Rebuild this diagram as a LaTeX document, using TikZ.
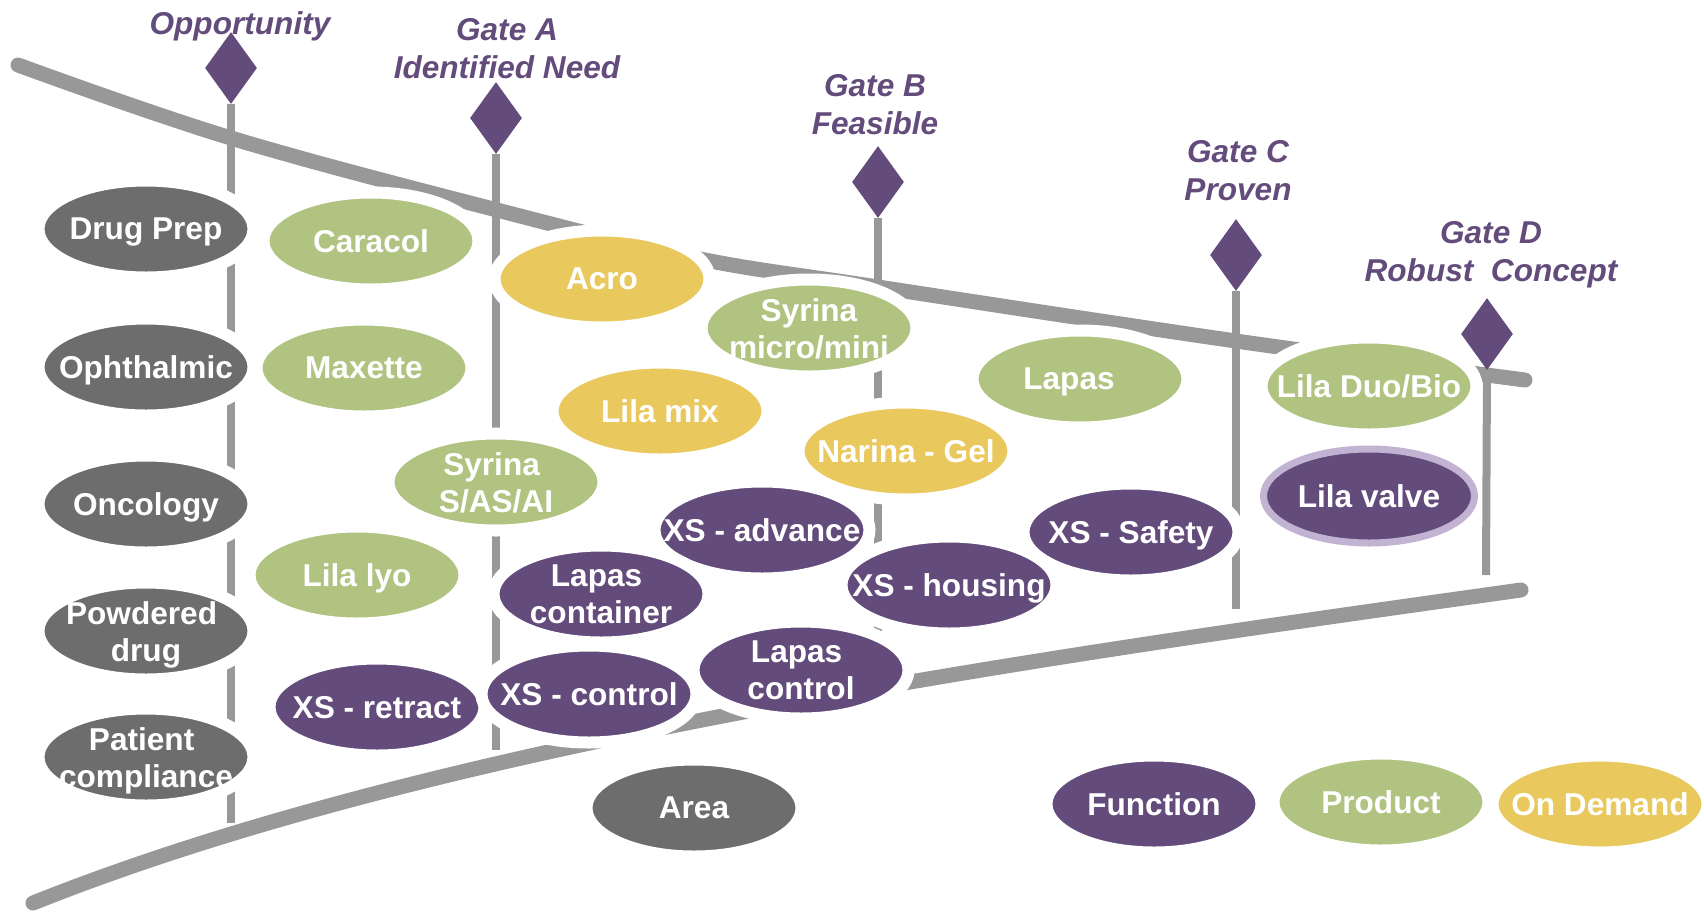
\documentclass[tikz,border=0pt]{standalone}
\usepackage{fontspec}
\setmainfont{Liberation Sans}
\usetikzlibrary{shapes.geometric}
\definecolor{fnpurple}{HTML}{634C7B}
\definecolor{prgreen}{HTML}{B1C381}
\definecolor{odyellow}{HTML}{E9C95D}
\definecolor{areagray}{HTML}{6D6D6D}
\definecolor{linegray}{HTML}{989898}
\definecolor{valverim}{HTML}{C3B3D3}
\tikzset{
  blob/.style={ellipse, draw=white, line width=6pt, minimum width=107.5pt, minimum height=48.5pt, inner sep=0pt},
  area/.style={blob, fill=areagray},
  prod/.style={blob, fill=prgreen},
  demand/.style={blob, fill=odyellow},
  func/.style={blob, fill=fnpurple},
  txt/.style={text=white, align=center, inner sep=0pt, yshift=-1.7pt, execute at end node=\vphantom{g}, font=\bfseries\fontsize{15.8}{18.5}\selectfont},
  gate/.style={diamond, fill=fnpurple, minimum width=26pt, minimum height=36pt, inner sep=0pt},
  gatetxt/.style={text=fnpurple, align=center, inner sep=0pt, font=\bfseries\itshape\fontsize{15.8}{19}\selectfont},
  rail/.style={linegray, line width=7.5pt, line cap=round},
  pole/.style={linegray, line width=4pt}
}

\begin{document}
\begin{tikzpicture}[x=0.5pt,y=-0.5pt]
\useasboundingbox (0,0) rectangle (1704,912);
\draw[rail] plot[smooth, tension=0.6] coordinates {(18,65) (231,138) (497,210) (695,258) (878,287) (1236,341) (1525,380)};
\draw[rail] (33,903) .. controls (433,743) and (1021,660) .. (1521,590);
\node[gate] (g0) at (231,68) {};
\node[gate] (gA) at (496,118) {};
\node[gate] (gB) at (878,182) {};
\node[gate] (gC) at (1236,255) {};
\node[gate] (gD) at (1487,334) {};
\coordinate (e0) at (231,823);
\coordinate (eA) at (496,750);
\coordinate (eB) at (878,660);
\coordinate (eC) at (1236,609);
\coordinate (eD) at (1486,575);
\draw[pole] (g0.south) -- (e0);
\draw[pole] (gA.south) -- (eA);
\draw[pole] (gB.south) -- (eB);
\draw[pole] (gC.south) -- (eC);
\draw[pole] (gD.south) -- (eD);
\node[gatetxt] (t0) at (240,26) {Opportunity};
\node[gatetxt] (tA) at (507,49) {Gate A\\Identified Need};
\node[gatetxt] (tB) at (875,105) {Gate B\\Feasible};
\node[gatetxt] (tC) at (1238,171) {Gate C\\Proven};
\node[gatetxt] (tD) at (1491,255) {Gate D\\Robust\ \ Concept};
\node[area, label={[txt]center:Drug Prep}] (drugprep) at (146,229) {};
\node[area, label={[txt]center:Ophthalmic}] (ophthalmic) at (146,367) {};
\node[area, label={[txt]center:Oncology}] (oncology) at (146,504) {};
\node[area, label={[txt]center:{Powdered\kern4.4pt\\drug}}] (powdered) at (146,631) {};
\node[area, label={[txt]center:{Patient\kern4.4pt\\compliance}}] (patient) at (146,757) {};
\node[prod, label={[txt]center:Caracol}] (caracol) at (371,241) {};
\node[prod, label={[txt]center:Maxette}] (maxette) at (364,368) {};
\node[prod, label={[txt]center:Lila lyo}] (lilalyo) at (357,575) {};
\node[demand, label={[txt]center:Acro}] (acro) at (602,279) {};
\node[demand, label={[txt]center:Lila mix}] (lilamix) at (660,411) {};
\node[prod, label={[txt]center:{Syrina\kern4.4pt\\S/AS/AI}}] (syrinas) at (496,482) {};
\node[prod, label={[txt]center:{Syrina\\micro/mini}}] (syrinamicro) at (809,328) {};
\node[prod, label={[txt, xshift=-5.5pt]center:Lapas}] (lapas) at (1080,379) {};
\node[prod, label={[txt]center:Lila Duo/Bio}] (liladuo) at (1369,386) {};
\node[demand, label={[txt]center:Narina - Gel}] (narina) at (906,451) {};
\node[func, label={[txt]center:XS - advance}] (xsadvance) at (762,530) {};
\node[func, label={[txt]center:{Lapas\kern4.4pt\\container}}] (lapascont) at (601,594) {};
\node[func, label={[txt]center:XS - housing}] (xshousing) at (949,585) {};
\node[func, label={[txt]center:XS - Safety}] (xssafety) at (1131,532) {};
\node[func, label={[txt]center:XS - retract}] (xsretract) at (377,707) {};
\node[func, label={[txt]center:XS - control}] (xscontrol) at (589,694) {};
\node[func, label={[txt]center:{Lapas\kern4.4pt\\control}}] (lapasctrl) at (801,670) {};
\node[func, draw=valverim, line width=3.5pt, minimum width=105.5pt, minimum height=47pt, label={[txt]center:Lila valve}] (lilavalve) at (1369,496) {};
\node[area, label={[txt]center:Area}] (keyarea) at (694,808) {};
\node[func, label={[txt]center:Function}] (keyfunc) at (1154,804) {};
\node[prod, label={[txt]center:Product}] (keyprod) at (1381,802) {};
\node[demand, label={[txt]center:On Demand}] (keydemand) at (1600,804) {};
\end{tikzpicture}
\end{document}
